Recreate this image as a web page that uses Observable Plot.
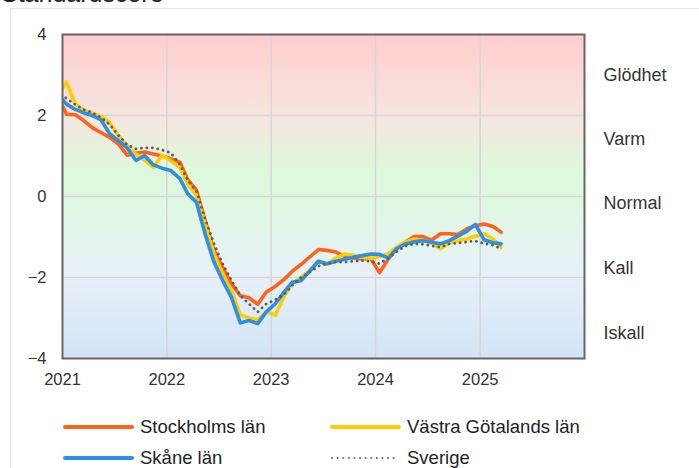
<!DOCTYPE html>
<html>
<head>
<meta charset="utf-8">
<script src="https://cdn.jsdelivr.net/npm/d3@7"></script>
<script src="https://cdn.jsdelivr.net/npm/@observablehq/plot@0.6"></script>
<style>
  html, body { margin: 0; padding: 0; background: #fff; }
  body { font-family: "Liberation Sans", Arial, sans-serif; }
  #wrap { position: relative; width: 699px; height: 468px; overflow: hidden; background: #fff; }
  #card { position: absolute; left: 10px; top: 8px; width: 700px; height: 470px; border-left: 1px solid #e4e4e4; border-top: 1px solid #e4e4e4; box-sizing: border-box; }
  #title { position: absolute; left: 1px; top: -19px; font-size: 25px; line-height: 25px; color: #222; white-space: nowrap; }
  #chart { position: absolute; left: 0; top: 0; }
  .leg { position: absolute; height: 22px; display: flex; align-items: center; font-size: 18.5px; color: #222; white-space: nowrap; }
  .leg svg { margin-right: 6px; }
</style>
</head>
<body>
<div id="wrap">
  <div id="card"></div>
  <div id="title"></div>
  <div id="chart"></div>
  <div id="legend"></div>
</div>
<script>
// ---------- data ----------
const titleText = "Standardscore";
const firstMonth = [2020, 11]; // December 2020 (point partly outside the frame, clipped)
const stockholm = [2.47, 2.03, 2.02, 1.88, 1.70, 1.58, 1.46, 1.30, 1.02, 1.07, 1.10, 1.05, 1.00, 0.93, 0.85, 0.42, 0.15, -0.60, -1.33, -1.75, -2.15, -2.45, -2.50, -2.66, -2.36, -2.22, -2.05, -1.85, -1.68, -1.50, -1.31, -1.33, -1.37, -1.48, -1.52, -1.54, -1.53, -1.88, -1.54, -1.28, -1.12, -0.99, -0.99, -1.08, -0.92, -0.92, -0.94, -0.80, -0.72, -0.68, -0.74, -0.88];
const vastra = [2.50, 2.82, 2.28, 2.13, 2.06, 1.98, 1.82, 1.50, 1.25, 1.05, 0.90, 0.72, 1.02, 0.88, 0.72, 0.31, 0.02, -0.68, -1.42, -1.90, -2.32, -2.92, -3.00, -3.05, -2.85, -2.93, -2.47, -2.15, -2.00, -1.83, -1.60, -1.68, -1.52, -1.42, -1.45, -1.50, -1.53, -1.48, -1.41, -1.25, -1.12, -1.05, -1.08, -1.15, -1.29, -1.14, -1.09, -1.05, -0.98, -0.92, -1.05, -1.25];
const skane = [2.52, 2.28, 2.15, 2.07, 2.00, 1.90, 1.55, 1.38, 1.20, 0.89, 1.01, 0.78, 0.70, 0.64, 0.45, 0.07, -0.15, -0.93, -1.62, -2.07, -2.49, -3.12, -3.06, -3.14, -2.85, -2.65, -2.36, -2.12, -2.08, -1.85, -1.60, -1.66, -1.60, -1.55, -1.50, -1.46, -1.42, -1.43, -1.52, -1.29, -1.17, -1.12, -1.09, -1.13, -1.17, -1.09, -0.98, -0.86, -0.69, -1.07, -1.14, -1.17];
const sverige = [2.62, 2.42, 2.27, 2.15, 2.07, 1.95, 1.78, 1.52, 1.28, 1.18, 1.20, 1.20, 1.15, 1.08, 0.80, 0.40, 0.12, -0.55, -1.17, -1.66, -2.07, -2.45, -2.65, -2.85, -2.65, -2.55, -2.42, -2.20, -2.00, -1.87, -1.72, -1.66, -1.62, -1.62, -1.60, -1.58, -1.60, -1.66, -1.52, -1.36, -1.22, -1.17, -1.18, -1.22, -1.25, -1.17, -1.15, -1.12, -1.10, -1.16, -1.20, -1.29];

const seriesNames = ["Stockholms län", "Västra Götalands län", "Skåne län", "Sverige"];
const seriesColors = ["#ff6319", "#ffcc00", "#2f8fe3", "#5e5e5e"];
const seriesValues = [stockholm, vastra, skane, sverige];

const yTicks = [-4, -2, 0, 2, 4];
const yGrid = [-2, 0, 2];
const xTickYears = [2021, 2022, 2023, 2024, 2025];
const xGridYears = [2022, 2023, 2024, 2025];
const xDomainYears = [2021, 2026];
const yDomain = [-4, 4];

const zoneLabels = ["Glödhet", "Varm", "Normal", "Kall", "Iskall"];
const zoneLabelValues = [2.99, 1.41, -0.17, -1.77, -3.38];

const gradientValues = [4, 2, 0.6, -0.3, -2, -4];
const gradientColors = ["#ffcdcd", "#f6e5df", "#ddf9dc", "#e0f7e4", "#e7f0f9", "#d2e4f6"];

// ---------- build ----------
const yearDate = y => new Date(Date.UTC(y, 0, 1));
const dates = seriesValues[0].map((_, i) => d3.utcDay.offset(d3.utcMonth.offset(new Date(Date.UTC(firstMonth[0], firstMonth[1], 1)), i), 14));
const tables = seriesValues.map(vals => vals.map((v, i) => ({date: dates[i], value: v})));

document.getElementById("title").textContent = titleText;

function background(index, scales, values, dimensions) {
  const x0 = scales.x(yearDate(xDomainYears[0])), x1 = scales.x(yearDate(xDomainYears[1]));
  const yTop = scales.y(yDomain[1]), yBot = scales.y(yDomain[0]);
  const g = d3.create("svg:g");
  const grad = g.append("defs").append("linearGradient")
    .attr("id", "bggrad").attr("gradientUnits", "userSpaceOnUse")
    .attr("x1", 0).attr("x2", 0).attr("y1", yTop).attr("y2", yBot);
  gradientValues.forEach((v, i) => {
    grad.append("stop").attr("offset", (scales.y(v) - yTop) / (yBot - yTop)).attr("stop-color", gradientColors[i]);
  });
  g.append("rect").attr("x", x0).attr("y", yTop).attr("width", x1 - x0).attr("height", yBot - yTop).attr("fill", "url(#bggrad)");
  return g.node();
}

const lineMarks = tables.map((t, i) => {
  const dotted = i === 3;
  return Plot.line(t, {
    x: "date", y: "value", stroke: seriesColors[i],
    strokeWidth: dotted ? 2.8 : 3.6,
    strokeDasharray: dotted ? "0.1 5.4" : null,
    strokeLinecap: "round", strokeLinejoin: "round",
    clip: true
  });
});

const chart = Plot.plot({
  width: 699,
  height: 400,
  marginLeft: 62,
  marginRight: 115,
  marginTop: 34,
  marginBottom: 42,
  style: {fontFamily: "'Liberation Sans', Arial, sans-serif", fontSize: "16px", color: "#333", background: "transparent", overflow: "visible"},
  x: {type: "utc", domain: xDomainYears.map(yearDate)},
  y: {domain: yDomain},
  marks: [
    background,
    Plot.ruleX(xGridYears.map(yearDate), {stroke: "#d6d6d6", strokeWidth: 1.5}),
    Plot.ruleY(yGrid, {stroke: "#d6d6d6", strokeWidth: 1.5}),
    ...lineMarks,
    Plot.frame({stroke: "#666", strokeWidth: 2}),
    Plot.axisY({ticks: yTicks, tickSize: 0, tickPadding: 16, fontSize: 16.5, label: null}),
    Plot.axisX({ticks: xTickYears.map(yearDate), tickSize: 0, tickPadding: 15, tickFormat: d3.utcFormat("%Y"), fontSize: 16.5, label: null}),
    Plot.text(zoneLabels, {x: () => yearDate(xDomainYears[1]), y: (d, i) => zoneLabelValues[i], text: d => d, dx: 19, textAnchor: "start", fontSize: 18, fill: "#333"})
  ]
});
document.getElementById("chart").appendChild(chart);

// ---------- legend ----------
const legendPos = [[63, 416], [330, 416], [63, 447], [330, 447]];
const legend = document.getElementById("legend");
seriesNames.forEach((name, i) => {
  const dotted = i === 3;
  const el = document.createElement("div");
  el.className = "leg";
  el.style.left = legendPos[i][0] + "px";
  el.style.top = legendPos[i][1] + "px";
  el.innerHTML = `<svg width="71" height="8"><line x1="2" y1="4" x2="69" y2="4" stroke="${dotted ? "#777" : seriesColors[i]}" stroke-width="${dotted ? 2.2 : 4}" stroke-linecap="round" ${dotted ? 'stroke-dasharray="0.1 5.5"' : ""}/></svg><span>${name}</span>`;
  legend.appendChild(el);
});
</script>
</body>
</html>
